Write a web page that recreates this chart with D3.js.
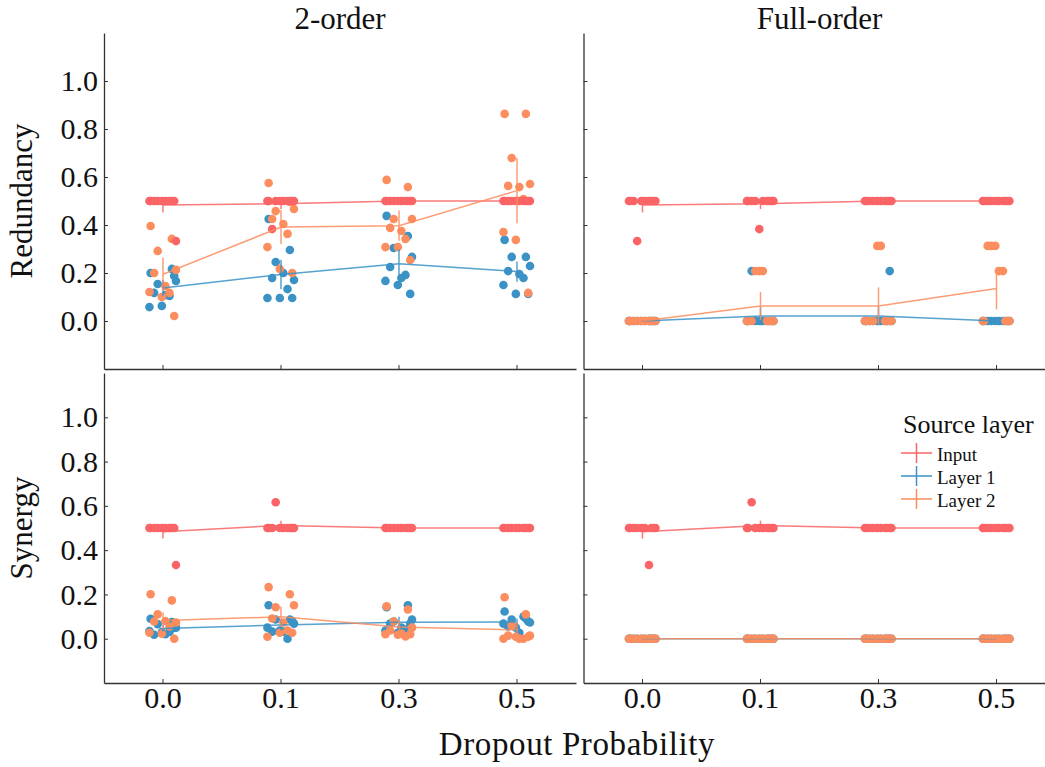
<!DOCTYPE html>
<html>
<head>
<meta charset="utf-8">
<script src="https://cdn.jsdelivr.net/npm/d3@7"></script>
<style>
  html, body { margin: 0; padding: 0; background: #fff; }
  svg text { font-family: "Liberation Serif", "DejaVu Serif", serif; fill: #111; }
</style>
</head>
<body>
<svg id="chart" width="1045" height="767"></svg>
<script>
// ---------------- data ----------------
const dropout = ["0.0", "0.1", "0.3", "0.5"];
const layers = ["Input", "Layer 1", "Layer 2"];
const colTitles = ["2-order", "Full-order"];
const rowTitles = ["Redundancy", "Synergy"];
const yTicks = [0.0, 0.2, 0.4, 0.6, 0.8, 1.0];

// Redundancy, 2-order
const red2Input = [
  [0.5,0.5,0.5,0.333,0.5,0.5,0.5,0.5,0.5,0.5],
  [0.5,0.5,0.5,0.5,0.383,0.5,0.5,0.5,0.5,0.5],
  [0.5,0.5,0.5,0.5,0.5,0.5,0.5,0.5,0.5,0.5],
  [0.5,0.5,0.5,0.5,0.5,0.5,0.5,0.5,0.5,0.5]
];
const red2L1 = [
  [0.200,0.217,0.154,0.167,0.117,0.108,0.104,0.058,0.063,0.188],
  [0.425,0.296,0.246,0.171,0.179,0.200,0.133,0.096,0.096,0.096],
  [0.438,0.354,0.304,0.267,0.225,0.179,0.192,0.167,0.150,0.113],
  [0.338,0.267,0.267,0.229,0.208,0.196,0.179,0.150,0.113,0.113]
];
const red2L2 = [
  [0.396,0.342,0.292,0.213,0.200,0.146,0.117,0.121,0.100,0.021],
  [0.575,0.496,0.458,0.467,0.425,0.404,0.363,0.308,0.217,0.200],
  [0.588,0.558,0.425,0.425,0.388,0.375,0.342,0.308,0.308,0.254],
  [0.863,0.863,0.679,0.571,0.563,0.558,0.508,0.371,0.338,0.117]
];
// Redundancy, Full-order
const redFInput = [
  [0.5,0.5,0.333,0.5,0.5,0.5,0.5,0.5,0.5,0.5],
  [0.5,0.5,0.5,0.5,0.5,0.5,0.5,0.5,0.383,0.5],
  [0.5,0.5,0.5,0.5,0.5,0.5,0.5,0.5,0.5,0.5],
  [0.5,0.5,0.5,0.5,0.5,0.5,0.5,0.5,0.5,0.5]
];
const redFL1 = [
  [0,0,0,0,0,0,0,0,0,0],
  [0,0,0,0,0.208,0,0,0,0,0],
  [0,0,0,0,0,0,0,0,0,0.208],
  [0,0,0,0,0,0,0,0,0,0]
];
const redFL2 = [
  [0,0,0,0,0,0,0,0,0,0],
  [0,0,0.208,0,0,0.208,0,0,0.208,0],
  [0,0,0,0,0,0.313,0,0,0.313,0],
  [0,0,0.313,0,0.313,0.208,0.208,0,0.313,0]
];
// Synergy, 2-order
const syn2Input = [
  [0.5,0.5,0.5,0.333,0.5,0.5,0.5,0.5,0.5,0.5],
  [0.5,0.5,0.616,0.5,0.5,0.5,0.5,0.5,0.5,0.5],
  [0.5,0.5,0.5,0.5,0.5,0.5,0.5,0.5,0.5,0.5],
  [0.5,0.5,0.5,0.5,0.5,0.5,0.5,0.5,0.5,0.5]
];
const syn2L1 = [
  [0.090,0.075,0.066,0.050,0.018,0.020,0.030,0.035,0.030,0.050],
  [0.151,0.087,0.087,0.068,0.032,0.032,0.000,0.050,0.037,0.080],
  [0.142,0.151,0.078,0.087,0.068,0.050,0.041,0.037,0.027,0.068],
  [0.123,0.091,0.087,0.073,0.055,0.027,0.100,0.068,0.050,0.078]
];
const syn2L2 = [
  [0.201,0.173,0.110,0.073,0.078,0.080,0.055,0.027,0.023,0.000],
  [0.233,0.201,0.142,0.151,0.091,0.073,0.037,0.009,0.027,0.027],
  [0.146,0.132,0.078,0.050,0.037,0.023,0.010,0.020,0.018,0.020],
  [0.187,0.110,0.059,0.014,0.014,0.000,0.000,0.000,0.009,0.009]
];
// Synergy, Full-order
const synFInput = [
  [0.5,0.5,0.5,0.5,0.5,0.5,0.333,0.5,0.5,0.5],
  [0.5,0.5,0.5,0.5,0.616,0.5,0.5,0.5,0.5,0.5],
  [0.5,0.5,0.5,0.5,0.5,0.5,0.5,0.5,0.5,0.5],
  [0.5,0.5,0.5,0.5,0.5,0.5,0.5,0.5,0.5,0.5]
];
const synFL1 = [
  [0,0,0,0,0,0,0,0,0,0],
  [0,0,0,0,0,0,0,0,0,0],
  [0,0,0,0,0,0,0,0,0,0],
  [0,0,0,0,0,0,0,0,0,0]
];
const synFL2 = [
  [0,0,0,0,0,0,0,0,0,0],
  [0,0,0,0,0,0,0,0,0,0],
  [0,0,0,0,0,0,0,0,0,0],
  [0,0,0,0,0,0,0,0,0,0]
];

// ---------------- styling / layout ----------------
const colors = { "Input": "#fb6466", "Layer 1": "#3a92c5", "Layer 2": "#fc8d5e" };
// fixed strip-plot jitter pattern (fraction of band width), applied by point index
const jitterPattern = [-0.105, 0.075, -0.045, 0.11, -0.075, 0.02, 0.055, -0.115, -0.01, 0.095];

const panels = [
  { row: 0, col: 0, data: { "Input": red2Input, "Layer 1": red2L1, "Layer 2": red2L2 } },
  { row: 0, col: 1, data: { "Input": redFInput, "Layer 1": redFL1, "Layer 2": redFL2 } },
  { row: 1, col: 0, data: { "Input": syn2Input, "Layer 1": syn2L1, "Layer 2": syn2L2 } },
  { row: 1, col: 1, data: { "Input": synFInput, "Layer 1": synFL1, "Layer 2": synFL2 } }
];

const colX = [[104, 576], [583.5, 1055.5]];
const rowY = [[369, 33], [683, 373]];

const svg = d3.select("#chart");
const axisColor = "#333";

panels.forEach(p => {
  const x = d3.scaleBand().domain(dropout).range(colX[p.col]).padding(0);
  const y = d3.scaleLinear().domain([-0.2, 1.2]).range(rowY[p.row]);
  const g = svg.append("g");

  // axes
  const yAxis = d3.axisLeft(y).tickValues(yTicks).tickSizeInner(-4).tickSizeOuter(0).tickPadding(6)
    .tickFormat(p.col === 0 ? d3.format(".1f") : () => "");
  const ya = g.append("g").attr("transform", `translate(${colX[p.col][0]},0)`).call(yAxis);
  const xAxis = d3.axisBottom(x).tickSizeInner(-4).tickSizeOuter(0).tickPadding(4)
    .tickFormat(p.row === 1 ? (d => d) : () => "");
  const xa = g.append("g").attr("transform", `translate(0,${rowY[p.row][0]})`).call(xAxis);
  [ya, xa].forEach(a => {
    a.select(".domain").attr("stroke", axisColor).attr("stroke-width", 1.3);
    a.selectAll(".tick line").attr("stroke", axisColor).attr("stroke-width", 1);
    a.selectAll(".tick text").attr("font-size", 30).attr("fill", "#111")
      .style("font-family", '"Liberation Serif", serif');
  });

  const bw = x.bandwidth();
  const cx = d => x(d) + bw / 2;

  // strip points (drawn Layer 1, Layer 2, then Input)
  ["Layer 1", "Layer 2", "Input"].forEach(layer => {
    const arr = p.data[layer];
    const pts = [];
    arr.forEach((vals, ci) => vals.forEach((v, i) => pts.push({ cat: dropout[ci], v, i })));
    g.append("g").selectAll("circle").data(pts).join("circle")
      .attr("cx", d => cx(d.cat) + jitterPattern[d.i % jitterPattern.length] * bw)
      .attr("cy", d => y(d.v))
      .attr("r", 4.3)
      .attr("fill", colors[layer]);
  });

  // point plot: means + CI bars + joining line
  layers.forEach(layer => {
    const arr = p.data[layer];
    const stats = arr.map((vals, ci) => {
      const m = d3.mean(vals);
      const sd = Math.sqrt(d3.mean(vals, v => (v - m) * (v - m)));
      const h = 1.96 * sd / Math.sqrt(vals.length);
      return { cat: dropout[ci], m, lo: m - h, hi: m + h };
    });
    const lg = g.append("g").attr("opacity", 0.85);
    lg.selectAll("line.err").data(stats.filter(s => s.hi - s.lo > 1e-9)).join("line")
      .attr("class", "err")
      .attr("x1", d => cx(d.cat)).attr("x2", d => cx(d.cat))
      .attr("y1", d => y(d.lo)).attr("y2", d => y(d.hi))
      .attr("stroke", colors[layer]).attr("stroke-width", 1.5);
    lg.append("path").datum(stats)
      .attr("d", d3.line().x(d => cx(d.cat)).y(d => y(d.m)))
      .attr("fill", "none").attr("stroke", colors[layer]).attr("stroke-width", 1.5);
  });
});

// column titles
colTitles.forEach((t, i) => {
  svg.append("text").attr("x", (colX[i][0] + colX[i][1]) / 2).attr("y", 29)
    .attr("text-anchor", "middle").attr("font-size", 31).text(t);
});
// row titles
rowTitles.forEach((t, i) => {
  const yc = (rowY[i][0] + rowY[i][1]) / 2;
  svg.append("text").attr("transform", `translate(32,${yc}) rotate(-90)`)
    .attr("text-anchor", "middle").attr("font-size", 31).text(t);
});
// x label
svg.append("text").attr("x", 577).attr("y", 755).attr("text-anchor", "middle")
  .attr("font-size", 33).attr("letter-spacing", 0.6).text("Dropout Probability");

// legend
const leg = svg.append("g");
leg.append("text").attr("x", 903).attr("y", 433).attr("font-size", 26).text("Source layer");
layers.forEach((l, i) => {
  const ly = 453 + i * 23;
  leg.append("line").attr("x1", 901).attr("x2", 932).attr("y1", ly).attr("y2", ly)
    .attr("stroke", colors[l]).attr("stroke-width", 1.5);
  leg.append("line").attr("x1", 916.5).attr("x2", 916.5).attr("y1", ly - 10).attr("y2", ly + 10)
    .attr("stroke", colors[l]).attr("stroke-width", 1.5);
  leg.append("text").attr("x", 937).attr("y", ly + 8).attr("font-size", 19).text(l);
});
</script>
</body>
</html>
